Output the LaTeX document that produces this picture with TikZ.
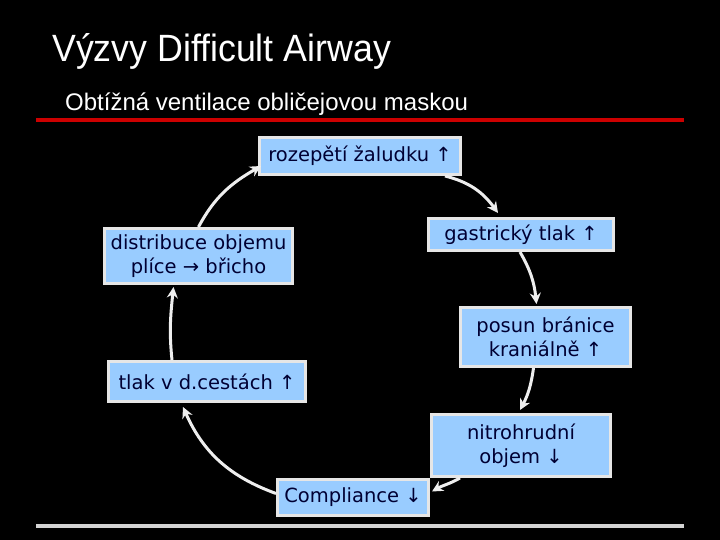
\documentclass[tikz,border=0pt]{standalone}
\usepackage{fontspec}
\setmainfont{DejaVu Sans}
\newfontfamily\titlefont[FakeStretch=0.94]{Liberation Sans}
\newfontfamily\subfont{Liberation Sans}
\usetikzlibrary{arrows.meta}
\definecolor{boxfill}{HTML}{99CCFF}
\definecolor{boxline}{HTML}{E6E6E6}
\definecolor{arrowc}{HTML}{EEEEEE}
\definecolor{txt}{HTML}{000033}
\definecolor{redbar}{HTML}{CC0000}
\definecolor{graybar}{HTML}{D4D4D4}
\begin{document}
\begin{tikzpicture}[x=1pt,y=1pt,
  cbox/.style={draw=boxline,line width=3pt,fill=boxfill,text=txt,
    font=\fontsize{19.5}{24}\selectfont,align=center,inner sep=0pt},
  flow/.style={draw=arrowc,line width=3pt,-{Stealth[length=11pt,width=11pt]}}]
\fill[black] (0,0) rectangle (720,540);
\useasboundingbox (0,0) rectangle (720,540);
\node[anchor=base west,text=white,inner sep=0pt,
  font=\titlefont\fontsize{38}{44}\selectfont] (title) at (52,478) {Výzvy Difficult Airway};
\node[anchor=base west,text=white,inner sep=0pt,
  font=\subfont\fontsize{24}{28}\selectfont] (sub) at (65,429) {Obtížná ventilace obličejovou maskou};
\fill[redbar] (36,418) rectangle (684,422);
\fill[graybar] (36,12) rectangle (684,16);

\node[cbox,minimum width=201pt,minimum height=37pt] (roz) at (360,384) {rozepětí žaludku ↑};
\node[cbox,minimum width=188pt,minimum height=55pt] (dist) at (198.5,284) {distribuce objemu\\plíce → břicho};
\node[cbox,minimum width=185pt,minimum height=32pt] (gas) at (521,305.5) {gastrický tlak ↑};
\node[cbox,minimum width=170pt,minimum height=59pt] (pos) at (545.5,203) {posun bránice\\kraniálně ↑};
\node[cbox,minimum width=197pt,minimum height=40pt] (tlak) at (207,158.5) {tlak v d.cestách ↑};
\node[cbox,minimum width=179pt,minimum height=62pt] (nit) at (521,94.5) {nitrohrudní\\objem ↓};
\node[cbox,minimum width=151pt,minimum height=36pt] (comp) at (353,42.5) {Compliance ↓};

\draw[flow] (dist.north) to[out=62,in=-150] ([xshift=3pt,yshift=-10pt]roz.west);
\draw[flow] ([xshift=-17pt]roz.south east) to[out=-14,in=126] ([xshift=-23pt,yshift=4pt]gas.north);
\draw[flow] ([xshift=-1pt]gas.south) to[out=-60,in=96] ([xshift=-9pt,yshift=2pt]pos.north);
\draw[flow] ([xshift=-12pt]pos.south) to[out=-98,in=62] ([xshift=-1pt,yshift=3pt]nit.north);
\draw[flow] ([xshift=-61pt]nit.south) to[out=-150,in=30] ([xshift=2pt,yshift=6pt]comp.east);
\draw[flow] ([yshift=4pt]comp.west) to[out=160,in=-66] ([xshift=-24pt,yshift=-4pt]tlak.south);
\draw[flow] ([xshift=-35pt]tlak.north) to[out=96,in=-96] ([xshift=-25pt,yshift=-2pt]dist.south);
\end{tikzpicture}
\end{document}
